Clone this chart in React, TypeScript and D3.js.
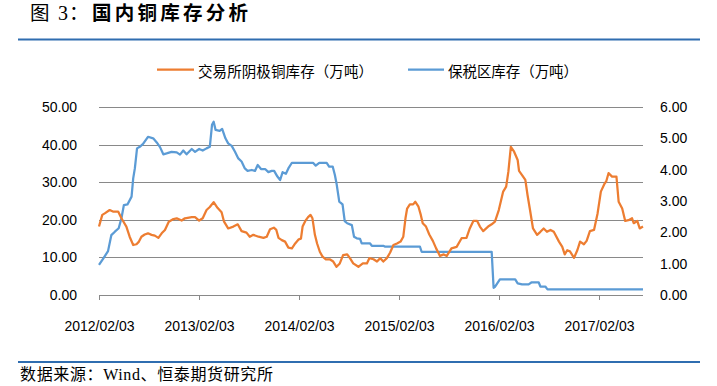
import * as d3 from "d3";

// 交易所阴极铜库存（万吨）— left axis
const tradeDates = [
  "2012-02-03", "2012-02-15", "2012-02-24", "2012-03-13", "2012-03-25", "2012-04-13", "2012-04-25", "2012-05-13",
  "2012-05-25", "2012-06-07", "2012-06-19", "2012-06-28", "2012-07-07", "2012-07-19", "2012-07-31", "2012-08-13",
  "2012-08-25", "2012-09-07", "2012-09-19", "2012-10-01", "2012-10-15", "2012-11-01", "2012-11-13", "2012-12-01",
  "2012-12-13", "2013-01-07", "2013-01-19", "2013-02-03", "2013-02-16", "2013-03-02", "2013-03-14", "2013-03-28",
  "2013-04-11", "2013-04-26", "2013-05-05", "2013-05-20", "2013-06-08", "2013-06-24", "2013-07-08", "2013-07-26",
  "2013-08-07", "2013-08-20", "2013-09-08", "2013-09-26", "2013-10-08", "2013-10-20", "2013-11-03", "2013-11-12",
  "2013-11-20", "2013-12-02", "2013-12-14", "2013-12-26", "2014-01-08", "2014-01-20", "2014-02-02", "2014-02-10",
  "2014-02-16", "2014-02-26", "2014-03-08", "2014-03-17", "2014-03-24", "2014-04-02", "2014-04-10", "2014-04-20",
  "2014-04-30", "2014-05-12", "2014-05-26", "2014-06-08", "2014-06-20", "2014-07-02", "2014-07-14", "2014-07-29",
  "2014-08-08", "2014-08-20", "2014-09-08", "2014-09-24", "2014-10-09", "2014-10-18", "2014-11-02", "2014-11-15",
  "2014-11-27", "2014-12-08", "2014-12-21", "2015-01-02", "2015-01-14", "2015-01-27", "2015-02-09", "2015-02-19",
  "2015-02-27", "2015-03-05", "2015-03-15", "2015-03-27", "2015-04-04", "2015-04-15", "2015-04-24", "2015-05-01",
  "2015-05-13", "2015-05-25", "2015-06-07", "2015-06-19", "2015-07-03", "2015-07-17", "2015-07-28", "2015-08-14",
  "2015-09-02", "2015-09-20", "2015-10-08", "2015-10-20", "2015-11-02", "2015-11-16", "2015-11-26", "2015-12-08",
  "2015-12-26", "2016-01-08", "2016-01-20", "2016-02-03", "2016-02-19", "2016-03-01", "2016-03-09", "2016-03-18",
  "2016-03-30", "2016-04-12", "2016-04-17", "2016-04-28", "2016-05-10", "2016-05-18", "2016-05-28", "2016-06-07",
  "2016-06-22", "2016-07-04", "2016-07-16", "2016-07-28", "2016-08-10", "2016-08-22", "2016-09-10", "2016-09-22",
  "2016-10-01", "2016-10-10", "2016-10-20", "2016-11-04", "2016-11-16", "2016-11-26", "2016-12-10", "2016-12-20",
  "2017-01-01", "2017-01-16", "2017-01-29", "2017-02-10", "2017-02-22", "2017-03-02", "2017-03-10", "2017-03-23",
  "2017-04-08", "2017-04-16", "2017-04-29", "2017-05-10", "2017-05-22", "2017-06-04", "2017-06-10", "2017-06-23",
  "2017-07-02", "2017-07-14",
];
const tradeStock = [
  18.2, 21.3, 21.7, 22.6, 22.2, 22.2, 20.4, 18.2,
  15.5, 13.3, 13.5, 14.2, 15.5, 16.1, 16.4, 16.0,
  15.8, 15.2, 16.4, 17.3, 19.5, 20.2, 20.4, 19.8,
  20.4, 20.7, 20.7, 19.8, 20.4, 22.6, 23.4, 24.7,
  23.2, 22.0, 19.5, 17.7, 18.2, 18.8, 17.0, 16.6,
  15.5, 16.0, 15.5, 15.2, 15.5, 17.5, 17.9, 17.3,
  15.2, 14.6, 14.2, 12.6, 12.4, 13.7, 14.8, 15.0,
  18.2, 19.7, 20.7, 21.3, 20.4, 16.0, 13.7, 11.5,
  10.2, 9.5, 9.5, 8.9, 7.5, 8.4, 10.6, 10.8,
  9.8, 8.4, 7.5, 8.4, 8.4, 9.8, 9.5, 8.9,
  9.8, 8.9, 9.8, 11.3, 13.3, 13.7, 14.2, 15.5,
  20.4, 23.0, 24.1, 24.1, 24.8, 23.6, 21.3, 19.1,
  18.2, 16.1, 14.4, 12.4, 10.4, 10.8, 10.4, 12.4,
  12.8, 15.1, 15.2, 17.7, 19.7, 19.7, 18.2, 17.0,
  18.2, 18.8, 19.5, 22.6, 27.5, 28.8, 32.8, 39.4,
  38.1, 35.9, 33.0, 31.9, 30.6, 26.6, 22.2, 17.7,
  16.0, 16.8, 17.7, 16.8, 17.3, 16.8, 14.2, 12.8,
  10.8, 11.9, 11.6, 9.9, 11.9, 14.2, 13.5, 14.4,
  17.0, 17.3, 21.7, 27.5, 29.4, 30.3, 32.4, 31.5,
  31.5, 24.8, 23.0, 19.7, 19.9, 20.4, 19.1, 19.7,
  17.7, 18.2,
];

// 保税区库存（万吨）— right axis
const bondedDates = [
  "2012-02-03", "2012-02-19", "2012-03-07", "2012-03-19", "2012-04-01", "2012-04-15", "2012-04-25", "2012-05-04",
  "2012-05-17", "2012-06-01", "2012-06-07", "2012-06-13", "2012-06-21", "2012-07-01", "2012-07-13", "2012-07-31",
  "2012-08-19", "2012-09-01", "2012-09-13", "2012-09-25", "2012-10-07", "2012-10-25", "2012-11-13", "2012-11-25",
  "2012-12-07", "2012-12-19", "2013-01-07", "2013-01-19", "2013-02-03", "2013-02-16", "2013-03-02", "2013-03-14",
  "2013-03-22", "2013-03-28", "2013-04-04", "2013-04-19", "2013-04-28", "2013-05-10", "2013-05-20", "2013-06-02",
  "2013-06-14", "2013-06-26", "2013-07-08", "2013-07-20", "2013-07-30", "2013-08-14", "2013-08-26", "2013-09-05",
  "2013-09-17", "2013-10-02", "2013-10-14", "2013-10-26", "2013-11-04", "2013-11-16", "2013-11-26", "2013-12-05",
  "2013-12-17", "2013-12-26", "2014-01-08", "2014-03-26", "2014-04-05", "2014-04-18", "2014-05-15", "2014-05-24",
  "2014-06-06", "2014-06-14", "2014-06-20", "2014-06-30", "2014-07-12", "2014-07-20", "2014-07-29", "2014-08-15",
  "2014-08-23", "2014-09-02", "2014-09-14", "2014-09-20", "2014-10-20", "2014-10-27", "2014-12-08", "2014-12-15",
  "2015-04-21", "2015-04-27", "2016-01-08", "2016-01-15", "2016-01-20", "2016-02-07", "2016-04-03", "2016-04-12",
  "2016-04-28", "2016-05-22", "2016-06-01", "2016-06-28", "2016-07-04", "2016-07-22", "2016-07-30", "2017-07-14",
];
const bondedStock = [
  0.96, 1.17, 1.40, 1.91, 2.02, 2.13, 2.45, 2.87,
  2.89, 3.14, 3.72, 4.04, 4.68, 4.73, 4.82, 5.05,
  5.00, 4.87, 4.72, 4.49, 4.52, 4.57, 4.55, 4.48,
  4.61, 4.49, 4.66, 4.57, 4.66, 4.61, 4.68, 4.73,
  5.43, 5.53, 5.27, 5.24, 5.30, 5.00, 4.84, 4.76,
  4.57, 4.36, 4.26, 4.04, 3.96, 3.99, 3.96, 4.15,
  4.02, 4.02, 3.92, 3.96, 3.96, 3.78, 3.67, 3.92,
  3.87, 4.04, 4.22, 4.22, 4.13, 4.22, 4.22, 4.10,
  4.10, 3.83, 3.56, 2.98, 2.89, 2.36, 2.29, 2.23,
  1.86, 1.81, 1.79, 1.65, 1.65, 1.57, 1.57, 1.54,
  1.54, 1.38, 1.38, 0.23, 0.26, 0.50, 0.50, 0.37,
  0.34, 0.34, 0.40, 0.40, 0.27, 0.27, 0.18, 0.18,
];

const leftTicks = [0, 10, 20, 30, 40, 50];
const rightTicks = [0, 1, 2, 3, 4, 5, 6];
const xTickLabels = ["2012/02/03", "2013/02/03", "2014/02/03", "2015/02/03", "2016/02/03", "2017/02/03"];

const tradeName = "交易所阴极铜库存（万吨）";
const bondedName = "保税区库存（万吨）";

const ORANGE = "#ED7D31";
const BLUE = "#5B9BD5";
const GRID = "#898989";
const RULE = "#2F6DB0";

export default function App() {
  const width = 717;
  const height = 386;
  const plotLeft = 99;
  const plotRight = 643;
  const plotTop = 107;
  const plotBottom = 295;

  const parseIso = d3.timeParse("%Y-%m-%d");
  const parseTick = d3.timeParse("%Y/%m/%d");

  const trade = tradeDates.map((d, i) => ({ date: parseIso(d)!, value: tradeStock[i] }));
  const bonded = bondedDates.map((d, i) => ({ date: parseIso(d)!, value: bondedStock[i] }));

  const xScale = d3
    .scaleTime()
    .domain([parseIso("2012-02-03")!, parseIso("2017-07-14")!])
    .range([plotLeft, plotRight]);
  const yLeft = d3.scaleLinear().domain([0, 50]).range([plotBottom, plotTop]);
  const yRight = d3.scaleLinear().domain([0, 6]).range([plotBottom, plotTop]);

  const tradeLine = d3
    .line<{ date: Date; value: number }>()
    .x((d) => xScale(d.date))
    .y((d) => yLeft(d.value));
  const bondedLine = d3
    .line<{ date: Date; value: number }>()
    .x((d) => xScale(d.date))
    .y((d) => yRight(d.value));

  const tickFont = "'Liberation Sans', Arial, sans-serif";
  const cjkFont = "'Noto Sans CJK SC', sans-serif";

  return (
    <svg
      width={width}
      height={height}
      style={{ position: "absolute", left: 0, top: 0, background: "#fff" }}
    >
      {/* Title */}
      <g fontSize={19.5} fontFamily={cjkFont} fill="#000">
        <text x={30} y={19.5}>图</text>
        <text x={58} y={19.5} fontFamily="'Liberation Serif', serif" fontSize={20}>3</text>
        <text x={69} y={19.5}>：</text>
        <text x={92} y={19.5} fontWeight="bold" textLength={156} lengthAdjust="spacing">
          国内铜库存分析
        </text>
      </g>
      <line x1={18} x2={700} y1={39.5} y2={39.5} stroke={RULE} strokeWidth={2} />

      {/* Legend */}
      <line x1={157} x2={194} y1={69.5} y2={69.5} stroke={ORANGE} strokeWidth={2.25} />
      <text
        x={198}
        y={71.5}
        dy="0.35em"
        fontSize={14.5}
        fontFamily={cjkFont}
        fill="#000"
        textLength={175}
        lengthAdjust="spacing"
      >
        {tradeName}
      </text>
      <line x1={408} x2={444} y1={69.5} y2={69.5} stroke={BLUE} strokeWidth={2.25} />
      <text
        x={448}
        y={71.5}
        dy="0.35em"
        fontSize={14.5}
        fontFamily={cjkFont}
        fill="#000"
        textLength={130}
        lengthAdjust="spacing"
      >
        {bondedName}
      </text>

      {/* Grid */}
      {leftTicks.map((t) => (
        <line
          key={t}
          x1={plotLeft}
          x2={plotRight}
          y1={Math.round(yLeft(t)) + 0.5}
          y2={Math.round(yLeft(t)) + 0.5}
          stroke={GRID}
          strokeWidth={1}
        />
      ))}

      {/* Left axis labels */}
      {leftTicks.map((t) => (
        <text
          key={t}
          x={77}
          y={yLeft(t)}
          dy="0.35em"
          textAnchor="end"
          fontSize={14}
          fontFamily={tickFont}
          fill="#000"
        >
          {t.toFixed(2)}
        </text>
      ))}

      {/* Right axis labels */}
      {rightTicks.map((t) => (
        <text
          key={t}
          x={660}
          y={yRight(t)}
          dy="0.35em"
          fontSize={14}
          fontFamily={tickFont}
          fill="#000"
        >
          {t.toFixed(2)}
        </text>
      ))}

      {/* X axis ticks and labels */}
      {xTickLabels.map((label) => {
        const x = Math.round(xScale(parseTick(label)!)) + 0.5;
        return (
          <g key={label}>
            <line x1={x} x2={x} y1={plotBottom} y2={plotBottom + 5} stroke={GRID} />
            <text
              x={x}
              y={326}
              dy="0.35em"
              textAnchor="middle"
              fontSize={14}
              fontFamily={tickFont}
              fill="#000"
            >
              {label}
            </text>
          </g>
        );
      })}

      {/* Series */}
      <path d={bondedLine(bonded) ?? ""} fill="none" stroke={BLUE} strokeWidth={2.25} strokeLinejoin="round" />
      <path d={tradeLine(trade) ?? ""} fill="none" stroke={ORANGE} strokeWidth={2.25} strokeLinejoin="round" />

      {/* Footer */}
      <line x1={18} x2={700} y1={362} y2={362} stroke={RULE} strokeWidth={2} />
      <text
        x={20}
        y={380}
        fontSize={16}
        fontFamily={"'Liberation Serif', 'Noto Sans CJK SC', serif"}
        fill="#000"
        textLength={253}
        lengthAdjust="spacing"
      >
        数据来源：Wind、恒泰期货研究所
      </text>
    </svg>
  );
}
